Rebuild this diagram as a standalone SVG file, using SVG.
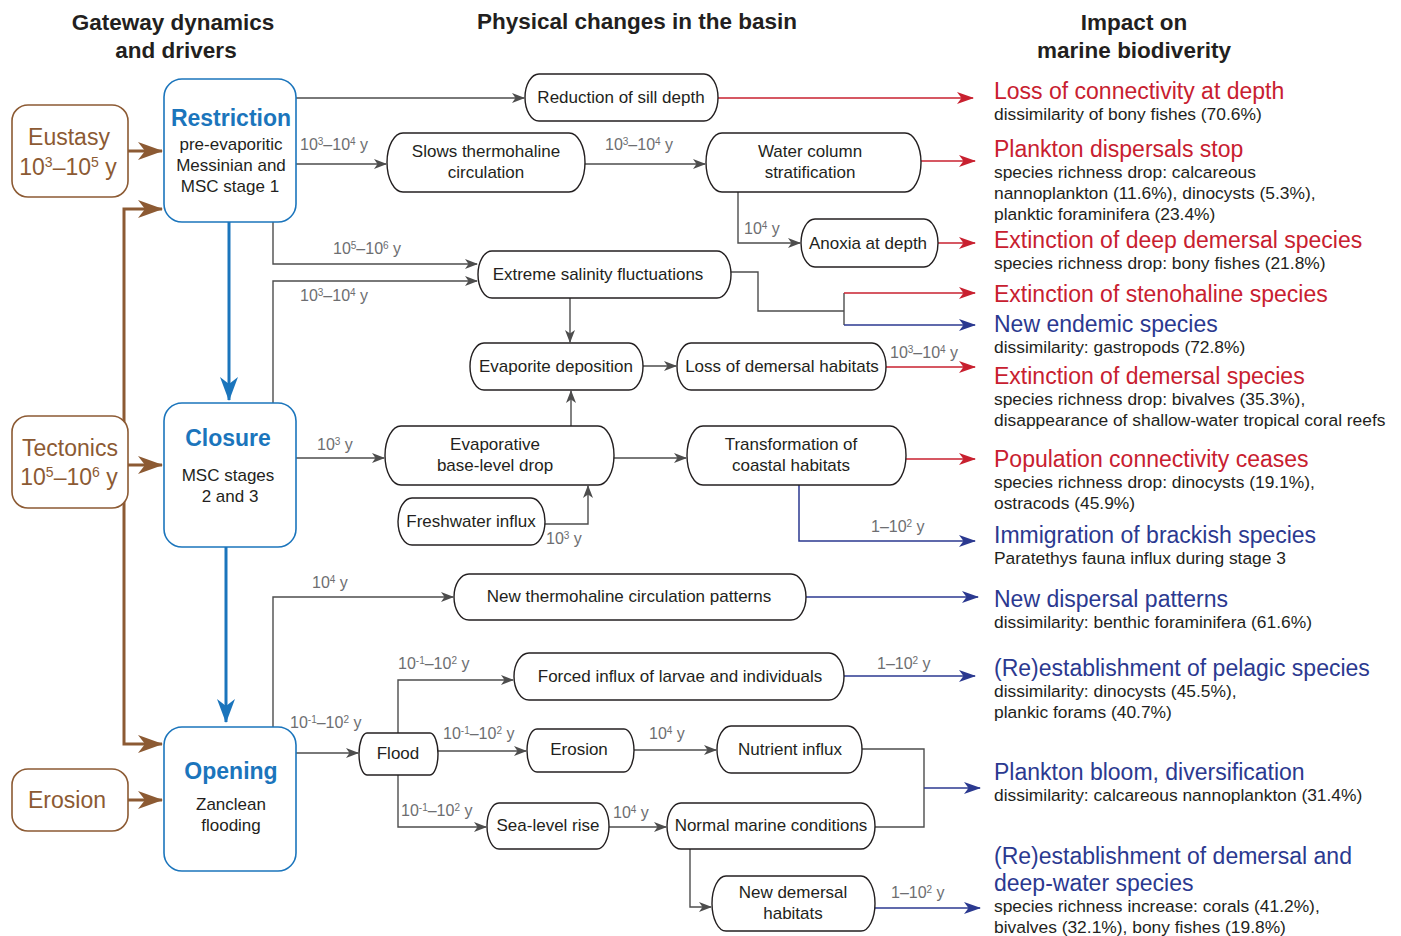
<svg xmlns="http://www.w3.org/2000/svg" width="1401" height="936" viewBox="0 0 1401 936">
<defs>
<style>
text{font-family:"Liberation Sans",Arial,sans-serif}
.hdr{font-size:22.5px;font-weight:bold;fill:#231f20;text-anchor:middle}
.drvb{fill:#fff;stroke:#8C5A33;stroke-width:1.6}
.drv{font-size:23px;fill:#8C5A33;text-anchor:middle}
.gb{fill:#fff;stroke:#1B75BC;stroke-width:1.6}
.gt{font-size:23px;font-weight:bold;fill:#1B75BC;text-anchor:middle}
.gs{font-size:17px;fill:#231f20;text-anchor:middle}
.nd{fill:#fff;stroke:#231f20;stroke-width:1.4}
.nt{font-size:17px;fill:#231f20;text-anchor:middle}
.lb{font-size:16px;fill:#6d6e71}
.sup{font-size:10px;baseline-shift:super}
.supd{font-size:14px;baseline-shift:super}
.c{fill:none;stroke:#4d4d4d;stroke-width:1.4}
.cr{fill:none;stroke:#C8202F;stroke-width:1.5}
.cb{fill:none;stroke:#2B3990;stroke-width:1.5}
.cbr{fill:none;stroke:#8C5A33;stroke-width:3}
.cgl{fill:none;stroke:#1B75BC;stroke-width:3}
.ir{font-size:23px;fill:#C8202F}
.ib{font-size:23px;fill:#2B3990}
.is{font-size:17.4px;fill:#231f20}
</style>
<marker id="ag" markerWidth="13" markerHeight="11" refX="12" refY="5.5" orient="auto" markerUnits="userSpaceOnUse"><path d="M0,0.5 L13,5.5 L0,10.5 L3.5,5.5z" fill="#4d4d4d"/></marker>
<marker id="ar" markerWidth="17" markerHeight="13" refX="16" refY="6.5" orient="auto" markerUnits="userSpaceOnUse"><path d="M0,0.5 L17,6.5 L0,12.5 L4.5,6.5z" fill="#C8202F"/></marker>
<marker id="ab" markerWidth="17" markerHeight="13" refX="16" refY="6.5" orient="auto" markerUnits="userSpaceOnUse"><path d="M0,0.5 L17,6.5 L0,12.5 L4.5,6.5z" fill="#2B3990"/></marker>
<marker id="abr" markerWidth="25" markerHeight="19" refX="24" refY="9.5" orient="auto" markerUnits="userSpaceOnUse"><path d="M0,0.5 L25,9.5 L0,18.5 L7,9.5z" fill="#8C5A33"/></marker>
<marker id="agl" markerWidth="24" markerHeight="19" refX="23" refY="9.5" orient="auto" markerUnits="userSpaceOnUse"><path d="M0,0.5 L24,9.5 L0,18.5 L7,9.5z" fill="#1B75BC"/></marker>
</defs>
<rect width="1401" height="936" fill="#fff"/>

<g id="headers">
<text class="hdr" x="173" y="30">Gateway dynamics</text>
<text class="hdr" x="176" y="58">and drivers</text>
<text class="hdr" x="637" y="29">Physical changes in the basin</text>
<text class="hdr" x="1134" y="30">Impact on</text>
<text class="hdr" x="1134" y="58">marine biodiverity</text>
</g>

<g id="connectors">
<!-- drivers -->
<path class="cbr" d="M128,151 H162" marker-end="url(#abr)"/>
<path class="cbr" d="M128,465 H162" marker-end="url(#abr)"/>
<path class="cbr" d="M128,800 H162" marker-end="url(#abr)"/>
<path class="cbr" d="M124,440 V209 H162" marker-end="url(#abr)"/>
<path class="cbr" d="M124,440 V744 H162" marker-end="url(#abr)"/>
<path class="cgl" d="M229,222 V400" marker-end="url(#agl)"/>
<path class="cgl" d="M226,547 V722" marker-end="url(#agl)"/>
<!-- restriction -->
<path class="c" d="M296,98 H524" marker-end="url(#ag)"/>
<path class="c" d="M296,164 H386" marker-end="url(#ag)"/>
<path class="c" d="M585,164 H705" marker-end="url(#ag)"/>
<path class="c" d="M738,192 V243 H800" marker-end="url(#ag)"/>
<path class="c" d="M273,222 V264 H477" marker-end="url(#ag)"/>
<path class="c" d="M273,403 V281 H477" marker-end="url(#ag)"/>
<path class="c" d="M570,298 V342" marker-end="url(#ag)"/>
<path class="c" d="M731,272 H758 V311 H844"/>
<path class="c" d="M844,293 V325"/>
<path class="c" d="M643,366 H676" marker-end="url(#ag)"/>
<path class="c" d="M296,458 H384" marker-end="url(#ag)"/>
<path class="c" d="M571,426 V391" marker-end="url(#ag)"/>
<path class="c" d="M614,458 H686" marker-end="url(#ag)"/>
<path class="c" d="M545,524 H588 V486" marker-end="url(#ag)"/>
<!-- opening -->
<path class="c" d="M273,727 V597 H453" marker-end="url(#ag)"/>
<path class="c" d="M296,753 H358" marker-end="url(#ag)"/>
<path class="c" d="M398,733 V680 H513" marker-end="url(#ag)"/>
<path class="c" d="M438,751 H526" marker-end="url(#ag)"/>
<path class="c" d="M398,775 V827 H486" marker-end="url(#ag)"/>
<path class="c" d="M634,750 H716" marker-end="url(#ag)"/>
<path class="c" d="M609,827 H666" marker-end="url(#ag)"/>
<path class="c" d="M862,749 H924 V827 H875"/>
<path class="c" d="M690,849 V907 H711" marker-end="url(#ag)"/>
<!-- impacts -->
<path class="cr" d="M718,98 H973" marker-end="url(#ar)"/>
<path class="cr" d="M921,161 H975" marker-end="url(#ar)"/>
<path class="cr" d="M938,243 H975" marker-end="url(#ar)"/>
<path class="cr" d="M844,293 H975" marker-end="url(#ar)"/>
<path class="cb" d="M844,325 H975" marker-end="url(#ab)"/>
<path class="cr" d="M886,367 H975" marker-end="url(#ar)"/>
<path class="cr" d="M906,459 H975" marker-end="url(#ar)"/>
<path class="cb" d="M799,485 V541 H975" marker-end="url(#ab)"/>
<path class="cb" d="M806,597 H978" marker-end="url(#ab)"/>
<path class="cb" d="M844,676 H975" marker-end="url(#ab)"/>
<path class="cb" d="M924,788 H980" marker-end="url(#ab)"/>
<path class="cb" d="M875,908 H980" marker-end="url(#ab)"/>
</g>

<g id="labels">
<text class="lb" x="300" y="150">10<tspan class="sup">3</tspan>–10<tspan class="sup">4</tspan> y</text>
<text class="lb" x="605" y="150">10<tspan class="sup">3</tspan>–10<tspan class="sup">4</tspan> y</text>
<text class="lb" x="744" y="234">10<tspan class="sup">4</tspan> y</text>
<text class="lb" x="333" y="254">10<tspan class="sup">5</tspan>–10<tspan class="sup">6</tspan> y</text>
<text class="lb" x="300" y="301">10<tspan class="sup">3</tspan>–10<tspan class="sup">4</tspan> y</text>
<text class="lb" x="890" y="358">10<tspan class="sup">3</tspan>–10<tspan class="sup">4</tspan> y</text>
<text class="lb" x="317" y="450">10<tspan class="sup">3</tspan> y</text>
<text class="lb" x="546" y="544">10<tspan class="sup">3</tspan> y</text>
<text class="lb" x="871" y="532">1–10<tspan class="sup">2</tspan> y</text>
<text class="lb" x="312" y="588">10<tspan class="sup">4</tspan> y</text>
<text class="lb" x="290" y="728">10<tspan class="sup">-1</tspan>–10<tspan class="sup">2</tspan> y</text>
<text class="lb" x="398" y="669">10<tspan class="sup">-1</tspan>–10<tspan class="sup">2</tspan> y</text>
<text class="lb" x="443" y="739">10<tspan class="sup">-1</tspan>–10<tspan class="sup">2</tspan> y</text>
<text class="lb" x="401" y="816">10<tspan class="sup">-1</tspan>–10<tspan class="sup">2</tspan> y</text>
<text class="lb" x="649" y="739">10<tspan class="sup">4</tspan> y</text>
<text class="lb" x="613" y="818">10<tspan class="sup">4</tspan> y</text>
<text class="lb" x="877" y="669">1–10<tspan class="sup">2</tspan> y</text>
<text class="lb" x="891" y="898">1–10<tspan class="sup">2</tspan> y</text>
</g>

<g id="eustasy"><rect class="drvb" x="12" y="105" width="116" height="92" rx="16"/>
<text class="drv" x="69" y="145">Eustasy</text>
<text class="drv" x="68" y="175">10<tspan class="supd">3</tspan>–10<tspan class="supd">5</tspan> y</text></g>
<g id="tectonics"><rect class="drvb" x="12" y="416" width="116" height="92" rx="16"/>
<text class="drv" x="70" y="456">Tectonics</text>
<text class="drv" x="69" y="485">10<tspan class="supd">5</tspan>–10<tspan class="supd">6</tspan> y</text></g>
<g id="erosion-driver"><rect class="drvb" x="12" y="769" width="116" height="62" rx="16"/>
<text class="drv" x="67" y="808">Erosion</text></g>

<g id="restriction"><rect class="gb" x="164" y="79" width="132" height="143" rx="18"/>
<text class="gt" x="231" y="126">Restriction</text>
<text class="gs" x="231" y="150">pre-evaporitic</text>
<text class="gs" x="231" y="171">Messinian and</text>
<text class="gs" x="230" y="192">MSC stage 1</text></g>
<g id="closure"><rect class="gb" x="164" y="403" width="132" height="144" rx="18"/>
<text class="gt" x="228" y="446">Closure</text>
<text class="gs" x="228" y="481">MSC stages</text>
<text class="gs" x="230" y="502">2 and 3</text></g>
<g id="opening"><rect class="gb" x="164" y="727" width="132" height="144" rx="18"/>
<text class="gt" x="231" y="779">Opening</text>
<text class="gs" x="231" y="810">Zanclean</text>
<text class="gs" x="231" y="831">flooding</text></g>

<g id="sill"><rect class="nd" x="525" y="74" width="193" height="47" rx="14" ry="23.5"/><text class="nt" x="621" y="103">Reduction of sill depth</text></g>
<g id="slows"><rect class="nd" x="387" y="133" width="198" height="59" rx="16" ry="29.5"/><text class="nt" x="486" y="157">Slows thermohaline</text><text class="nt" x="486" y="178">circulation</text></g>
<g id="stratification"><rect class="nd" x="706" y="133" width="215" height="59" rx="16" ry="29.5"/><text class="nt" x="810" y="157">Water column</text><text class="nt" x="810" y="178">stratification</text></g>
<g id="anoxia"><rect class="nd" x="801" y="219" width="137" height="48" rx="14" ry="24"/><text class="nt" x="868" y="249">Anoxia at depth</text></g>
<g id="salinity"><rect class="nd" x="478" y="251" width="253" height="47" rx="14" ry="23.5"/><text class="nt" x="598" y="280">Extreme salinity fluctuations</text></g>
<g id="evaporite"><rect class="nd" x="470" y="343" width="173" height="47" rx="14" ry="23.5"/><text class="nt" x="556" y="372">Evaporite deposition</text></g>
<g id="lossdemersal"><rect class="nd" x="677" y="343" width="209" height="47" rx="14" ry="23.5"/><text class="nt" x="782" y="372">Loss of demersal habitats</text></g>
<g id="baselevel"><rect class="nd" x="385" y="426" width="229" height="59" rx="16" ry="29.5"/><text class="nt" x="495" y="450">Evaporative</text><text class="nt" x="495" y="471">base-level drop</text></g>
<g id="coastal"><rect class="nd" x="687" y="426" width="219" height="59" rx="16" ry="29.5"/><text class="nt" x="791" y="450">Transformation of</text><text class="nt" x="791" y="471">coastal habitats</text></g>
<g id="freshwater"><rect class="nd" x="398" y="498" width="147" height="47" rx="14" ry="23.5"/><text class="nt" x="471" y="527">Freshwater influx</text></g>
<g id="newthermo"><rect class="nd" x="454" y="574" width="352" height="46" rx="15" ry="23"/><text class="nt" x="629" y="602">New thermohaline circulation patterns</text></g>
<g id="forced"><rect class="nd" x="514" y="653" width="330" height="47" rx="15" ry="23.5"/><text class="nt" x="680" y="682">Forced influx of larvae and individuals</text></g>
<g id="flood"><rect class="nd" x="359" y="733" width="79" height="42" rx="8" ry="21"/><text class="nt" x="398" y="759">Flood</text></g>
<g id="erosion"><rect class="nd" x="527" y="729" width="107" height="43" rx="10" ry="21.5"/><text class="nt" x="579" y="755">Erosion</text></g>
<g id="nutrient"><rect class="nd" x="717" y="726" width="145" height="47" rx="14" ry="23.5"/><text class="nt" x="790" y="755">Nutrient influx</text></g>
<g id="sealevel"><rect class="nd" x="487" y="803" width="122" height="46" rx="12" ry="23"/><text class="nt" x="548" y="831">Sea-level rise</text></g>
<g id="normal"><rect class="nd" x="667" y="803" width="208" height="46" rx="14" ry="23"/><text class="nt" x="771" y="831">Normal marine conditions</text></g>
<g id="newdemersal"><rect class="nd" x="712" y="876" width="163" height="55" rx="14" ry="27.5"/><text class="nt" x="793" y="898">New demersal</text><text class="nt" x="793" y="919">habitats</text></g>

<g id="impacts">
<text class="ir" x="994" y="99">Loss of connectivity at depth</text>
<text class="is" x="994" y="120">dissimilarity of bony fishes (70.6%)</text>
<text class="ir" x="994" y="157">Plankton dispersals stop</text>
<text class="is" x="994" y="178">species richness drop: calcareous</text>
<text class="is" x="994" y="199">nannoplankton (11.6%), dinocysts (5.3%),</text>
<text class="is" x="994" y="220">planktic foraminifera (23.4%)</text>
<text class="ir" x="994" y="248">Extinction of deep demersal species</text>
<text class="is" x="994" y="269">species richness drop: bony fishes (21.8%)</text>
<text class="ir" x="994" y="302">Extinction of stenohaline species</text>
<text class="ib" x="994" y="332">New endemic species</text>
<text class="is" x="994" y="353">dissimilarity: gastropods (72.8%)</text>
<text class="ir" x="994" y="384">Extinction of demersal species</text>
<text class="is" x="994" y="405">species richness drop: bivalves (35.3%),</text>
<text class="is" x="994" y="426">disappearance of shallow-water tropical coral reefs</text>
<text class="ir" x="994" y="467">Population connectivity ceases</text>
<text class="is" x="994" y="488">species richness drop: dinocysts (19.1%),</text>
<text class="is" x="994" y="509">ostracods (45.9%)</text>
<text class="ib" x="994" y="543">Immigration of brackish species</text>
<text class="is" x="994" y="564">Paratethys fauna influx during stage 3</text>
<text class="ib" x="994" y="607">New dispersal patterns</text>
<text class="is" x="994" y="628">dissimilarity: benthic foraminifera (61.6%)</text>
<text class="ib" x="994" y="676">(Re)establishment of pelagic species</text>
<text class="is" x="994" y="697">dissimilarity: dinocysts (45.5%),</text>
<text class="is" x="994" y="718">plankic forams (40.7%)</text>
<text class="ib" x="994" y="780">Plankton bloom, diversification</text>
<text class="is" x="994" y="801">dissimilarity: calcareous nannoplankton (31.4%)</text>
<text class="ib" x="994" y="864">(Re)establishment of demersal and</text>
<text class="ib" x="994" y="891">deep-water species</text>
<text class="is" x="994" y="912">species richness increase: corals (41.2%),</text>
<text class="is" x="994" y="933">bivalves (32.1%), bony fishes (19.8%)</text>
</g>
</svg>
